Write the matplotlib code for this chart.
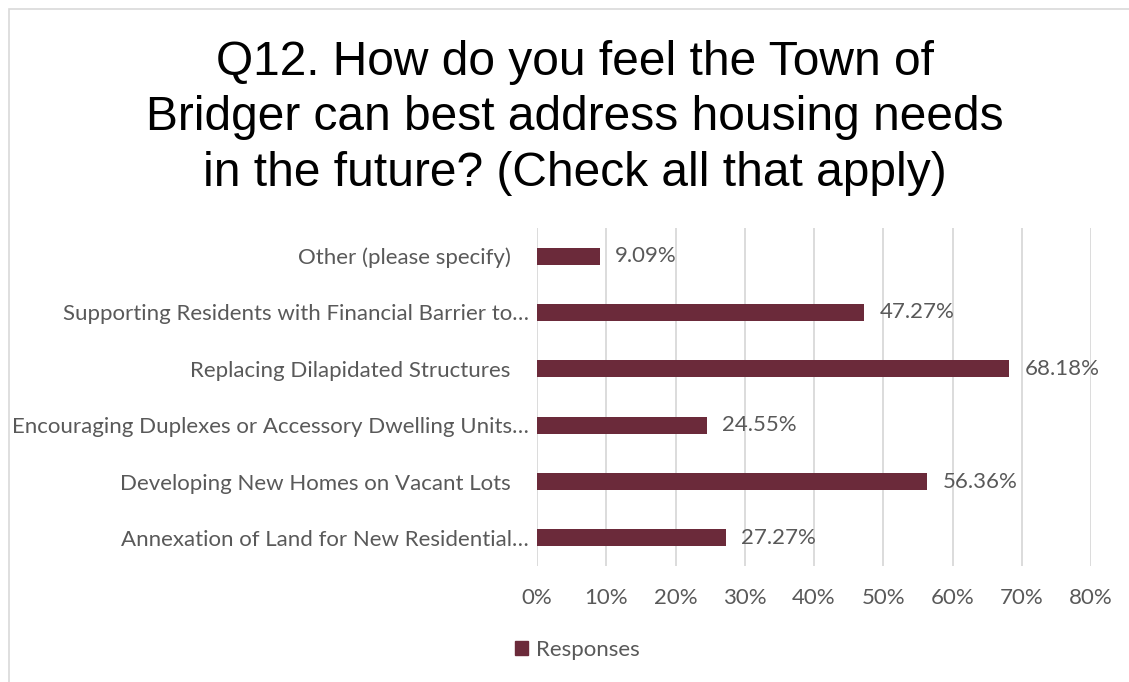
import matplotlib.pyplot as plt
import matplotlib.patches as mpatches
import matplotlib.transforms as mtransforms
import numpy as np

categories = [
    "Annexation of Land for New Residential…",
    "Developing New Homes on Vacant Lots",
    "Encouraging Duplexes or Accessory Dwelling Units…",
    "Replacing Dilapidated Structures",
    "Supporting Residents with Financial Barrier to…",
    "Other (please specify)",
]
responses = [27.27, 56.36, 24.55, 68.18, 47.27, 9.09]
xticks = [0, 10, 20, 30, 40, 50, 60, 70, 80]

bar_color = "#6B2A3A"
text_color = "#595959"
grid_color = "#D9D9D9"
label_font = ["Lato", "DejaVu Sans"]
fs = 16

fig = plt.figure(figsize=(11.29, 6.82), dpi=100)
fig.patch.set_facecolor("white")

# thin frame around the chart
frame = mpatches.Rectangle((9 / 1129, -0.05), 1.2, (682 - 9) / 682 + 0.05,
                           transform=fig.transFigure, fill=False,
                           edgecolor="#D9D9D9", linewidth=1.2)
fig.patches.append(frame)

ax = fig.add_axes([537 / 1129, (682 - 566) / 682, (1091 - 537) / 1129, 338 / 682])

y = np.arange(len(categories))
bars = ax.barh(y, responses, height=0.3, color=bar_color, zorder=3)

for yi, v in zip(y, responses):
    ax.text(v + 2.2, yi, f"{v:.2f}%", va="center", ha="left",
            fontsize=fs, color=text_color, family=label_font)

ax.set_xlim(0, 80)
ax.set_ylim(-0.5, len(categories) - 0.5)
ax.set_xticks(xticks)
ax.set_xticklabels([f"{t}%" for t in xticks], fontsize=fs, color=text_color,
                   family=label_font)
ax.set_yticks(y)
ax.set_yticklabels(categories, fontsize=fs, color=text_color, family=label_font)
ax.tick_params(axis="both", length=0)
ax.tick_params(axis="x", pad=16)
ax.tick_params(axis="y", pad=6)

# full-length labels sit a little further left than the truncated ones
shift = mtransforms.ScaledTranslation(-18 / 100, 0, fig.dpi_scale_trans)
for lbl in ax.get_yticklabels():
    if not lbl.get_text().endswith("…"):
        lbl.set_transform(lbl.get_transform() + shift)

ax.grid(axis="x", color=grid_color, linewidth=1.3, zorder=0)
for s in ax.spines.values():
    s.set_visible(False)

fig.text(575 / 1129, 1 - 118 / 682,
         "Q12. How do you feel the Town of\nBridger can best address housing needs\nin the future? (Check all that apply)",
         ha="center", va="center", fontsize=34.5, family="Liberation Sans",
         color="black", linespacing=1.3)

handle = mpatches.Patch(color=bar_color, label="Responses")
fig.legend(handles=[handle], loc="center", bbox_to_anchor=(577 / 1129, 1 - 650 / 682),
           frameon=False, handlelength=0.6, handleheight=0.6, handletextpad=0.35,
           prop={"family": label_font, "size": fs}, labelcolor=text_color)

fig.savefig("out.png", dpi=100)
